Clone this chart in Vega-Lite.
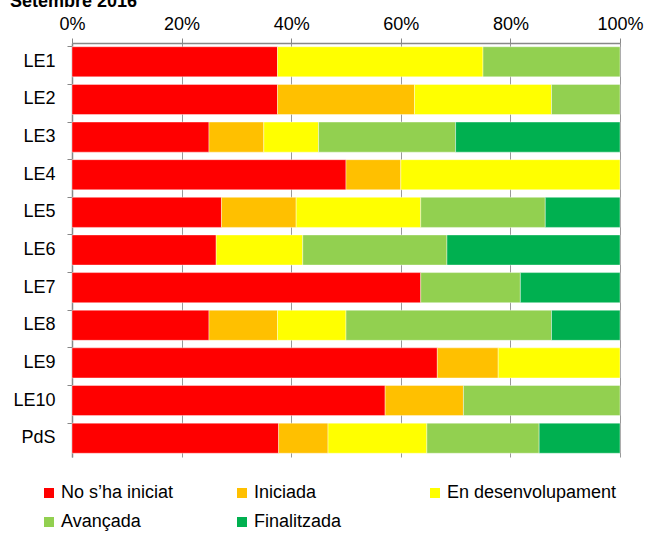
{
  "$schema": "https://vega.github.io/schema/vega-lite/v6.json",
  "width": 548,
  "height": 414,
  "autosize": {"type": "none"},
  "padding": {"left": 72, "top": 43, "right": 27, "bottom": 77},
  "background": "white",
  "config": {
    "font": "Liberation Sans",
    "view": {"stroke": null},
    "title": {"font": "Liberation Sans", "fontSize": 18, "fontWeight": "bold", "color": "black"}
  },
  "title": {"text": "Setembre 2016", "anchor": "start", "frame": "group", "dx": -62, "offset": 4},
  "data": {
    "values": [
      {"cat": "LE1", "estat": "No s’ha iniciat", "n": 3, "ord": 1},
      {"cat": "LE1", "estat": "En desenvolupament", "n": 3, "ord": 3},
      {"cat": "LE1", "estat": "Avançada", "n": 2, "ord": 4},
      {"cat": "LE2", "estat": "No s’ha iniciat", "n": 3, "ord": 1},
      {"cat": "LE2", "estat": "Iniciada", "n": 2, "ord": 2},
      {"cat": "LE2", "estat": "En desenvolupament", "n": 2, "ord": 3},
      {"cat": "LE2", "estat": "Avançada", "n": 1, "ord": 4},
      {"cat": "LE3", "estat": "No s’ha iniciat", "n": 5, "ord": 1},
      {"cat": "LE3", "estat": "Iniciada", "n": 2, "ord": 2},
      {"cat": "LE3", "estat": "En desenvolupament", "n": 2, "ord": 3},
      {"cat": "LE3", "estat": "Avançada", "n": 5, "ord": 4},
      {"cat": "LE3", "estat": "Finalitzada", "n": 6, "ord": 5},
      {"cat": "LE4", "estat": "No s’ha iniciat", "n": 5, "ord": 1},
      {"cat": "LE4", "estat": "Iniciada", "n": 1, "ord": 2},
      {"cat": "LE4", "estat": "En desenvolupament", "n": 4, "ord": 3},
      {"cat": "LE5", "estat": "No s’ha iniciat", "n": 6, "ord": 1},
      {"cat": "LE5", "estat": "Iniciada", "n": 3, "ord": 2},
      {"cat": "LE5", "estat": "En desenvolupament", "n": 5, "ord": 3},
      {"cat": "LE5", "estat": "Avançada", "n": 5, "ord": 4},
      {"cat": "LE5", "estat": "Finalitzada", "n": 3, "ord": 5},
      {"cat": "LE6", "estat": "No s’ha iniciat", "n": 5, "ord": 1},
      {"cat": "LE6", "estat": "En desenvolupament", "n": 3, "ord": 3},
      {"cat": "LE6", "estat": "Avançada", "n": 5, "ord": 4},
      {"cat": "LE6", "estat": "Finalitzada", "n": 6, "ord": 5},
      {"cat": "LE7", "estat": "No s’ha iniciat", "n": 7, "ord": 1},
      {"cat": "LE7", "estat": "Avançada", "n": 2, "ord": 4},
      {"cat": "LE7", "estat": "Finalitzada", "n": 2, "ord": 5},
      {"cat": "LE8", "estat": "No s’ha iniciat", "n": 2, "ord": 1},
      {"cat": "LE8", "estat": "Iniciada", "n": 1, "ord": 2},
      {"cat": "LE8", "estat": "En desenvolupament", "n": 1, "ord": 3},
      {"cat": "LE8", "estat": "Avançada", "n": 3, "ord": 4},
      {"cat": "LE8", "estat": "Finalitzada", "n": 1, "ord": 5},
      {"cat": "LE9", "estat": "No s’ha iniciat", "n": 6, "ord": 1},
      {"cat": "LE9", "estat": "Iniciada", "n": 1, "ord": 2},
      {"cat": "LE9", "estat": "En desenvolupament", "n": 2, "ord": 3},
      {"cat": "LE10", "estat": "No s’ha iniciat", "n": 4, "ord": 1},
      {"cat": "LE10", "estat": "Iniciada", "n": 1, "ord": 2},
      {"cat": "LE10", "estat": "Avançada", "n": 2, "ord": 4},
      {"cat": "PdS", "estat": "No s’ha iniciat", "n": 46, "ord": 1},
      {"cat": "PdS", "estat": "Iniciada", "n": 11, "ord": 2},
      {"cat": "PdS", "estat": "En desenvolupament", "n": 22, "ord": 3},
      {"cat": "PdS", "estat": "Avançada", "n": 25, "ord": 4},
      {"cat": "PdS", "estat": "Finalitzada", "n": 18, "ord": 5}
    ]
  },
  "mark": {"type": "bar", "stroke": "white", "strokeWidth": 0.4},
  "encoding": {
    "y": {
      "field": "cat",
      "type": "nominal",
      "sort": ["LE1", "LE2", "LE3", "LE4", "LE5", "LE6", "LE7", "LE8", "LE9", "LE10", "PdS"],
      "scale": {"paddingInner": 0.2, "paddingOuter": 0.1},
      "axis": {
        "title": null,
        "labelFontSize": 18,
        "labelColor": "black",
        "labelPadding": 12,
        "bandPosition": 0,
        "ticks": true,
        "tickSize": 5,
        "tickColor": "#888888",
        "domainColor": "#888888",
        "domainWidth": 1.5
      }
    },
    "x": {
      "field": "n",
      "type": "quantitative",
      "stack": "normalize",
      "scale": {"domain": [0, 1]},
      "axis": {
        "orient": "top",
        "title": null,
        "format": ".0%",
        "values": [0, 0.2, 0.4, 0.6, 0.8, 1],
        "labelFontSize": 18,
        "labelColor": "black",
        "labelPadding": 5,
        "grid": true,
        "gridColor": "#999999",
        "tickColor": "#888888",
        "tickSize": 5,
        "domainColor": "#888888",
        "domainWidth": 1.5,
        "labelFlush": false
      }
    },
    "color": {
      "field": "estat",
      "type": "nominal",
      "sort": ["No s’ha iniciat", "Iniciada", "En desenvolupament", "Avançada", "Finalitzada"],
      "scale": {
        "domain": ["No s’ha iniciat", "Iniciada", "En desenvolupament", "Avançada", "Finalitzada"],
        "range": ["#FF0000", "#FFC000", "#FFFF00", "#92D050", "#00B050"]
      },
      "legend": {
        "title": null,
        "orient": "none",
        "legendX": -32,
        "legendY": 441,
        "direction": "horizontal",
        "columns": 3,
        "gridAlign": "all",
        "columnPadding": 2,
        "rowPadding": 11,
        "symbolType": "square",
        "symbolSize": 100,
        "symbolStrokeWidth": 0,
        "labelFontSize": 18,
        "labelColor": "black",
        "labelOffset": 3,
        "labelLimit": 300
      }
    },
    "order": {"field": "ord", "type": "quantitative"}
  }
}
